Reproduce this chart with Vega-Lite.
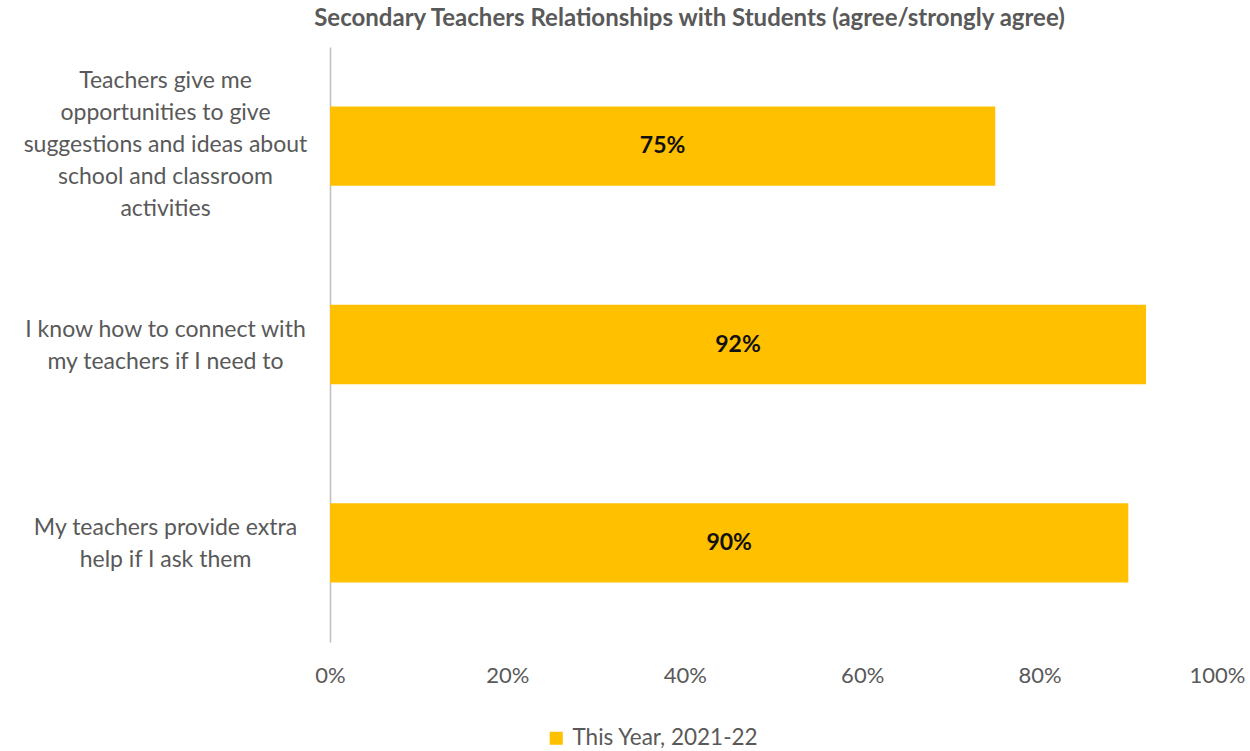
{
  "$schema": "https://vega.github.io/schema/vega-lite/v6.json",
  "autosize": {"type": "none"},
  "padding": {"left": 330, "top": 47, "right": 33, "bottom": 109},
  "width": 887,
  "height": 595,
  "background": "#ffffff",
  "config": {
    "view": {"stroke": null},
    "font": "Lato"
  },
  "title": {
    "text": "Secondary Teachers Relationships with Students (agree/strongly agree)",
    "fontSize": 24,
    "fontWeight": "bold",
    "color": "#595959",
    "font": "Lato",
    "anchor": "middle",
    "dx": -84,
    "offset": 16
  },
  "data": {
    "values": [
      {"item": "Teachers give me opportunities to give suggestions and ideas about school and classroom activities", "value": 0.75, "series": "This Year, 2021-22"},
      {"item": "I know how to connect with my teachers if I need to", "value": 0.92, "series": "This Year, 2021-22"},
      {"item": "My teachers provide extra help if I ask them", "value": 0.90, "series": "This Year, 2021-22"}
    ]
  },
  "encoding": {
    "y": {
      "field": "item",
      "type": "nominal",
      "sort": null,
      "scale": {"paddingInner": 0.6, "paddingOuter": 0.3},
      "axis": {
        "title": null,
        "ticks": false,
        "domain": true,
        "domainColor": "#bfbfbf",
        "domainWidth": 1.5,
        "labelAlign": "center",
        "labelBaseline": "middle",
        "labelPadding": 165,
        "labelFont": "Lato",
        "labelFontSize": 23,
        "labelColor": "#595959",
        "labelLineHeight": 32,
        "labelLimit": 0,
        "labelOffset": {
          "condition": {"test": "datum.value == 'Teachers give me opportunities to give suggestions and ideas about school and classroom activities'", "value": -65},
          "value": -15
        },
        "labelExpr": "datum.value == 'Teachers give me opportunities to give suggestions and ideas about school and classroom activities' ? ['Teachers give me', 'opportunities to give', 'suggestions and ideas about', 'school and classroom', 'activities'] : datum.value == 'I know how to connect with my teachers if I need to' ? ['I know how to connect with', 'my teachers if I need to'] : ['My teachers provide extra', 'help if I ask them']"
      }
    }
  },
  "layer": [
    {
      "mark": {"type": "bar"},
      "encoding": {
        "x": {
          "field": "value",
          "type": "quantitative",
          "scale": {"domain": [0, 1], "nice": false},
          "axis": {
            "title": null,
            "format": ".0%",
            "values": [0, 0.2, 0.4, 0.6, 0.8, 1],
            "grid": false,
            "ticks": false,
            "domain": false,
            "labelPadding": 23,
            "labelFont": "Lato",
            "labelFontSize": 22,
            "labelColor": "#595959",
            "labelFlush": false
          }
        },
        "color": {
          "field": "series",
          "type": "nominal",
          "scale": {"range": ["#FFC000"]},
          "legend": {
            "title": null,
            "orient": "none",
            "legendX": 215,
            "legendY": 680,
            "symbolType": "square",
            "symbolSize": 170,
            "symbolStrokeWidth": 0,
            "labelFont": "Lato",
            "labelFontSize": 22.5,
            "labelColor": "#595959",
            "labelOffset": 5,
            "labelLimit": 0
          }
        }
      }
    },
    {
      "transform": [{"calculate": "datum.value / 2", "as": "mid"}],
      "mark": {"type": "text", "font": "Lato", "fontWeight": "bold", "fontSize": 23, "color": "#111111", "baseline": "middle", "align": "center"},
      "encoding": {
        "x": {"field": "mid", "type": "quantitative"},
        "text": {"field": "value", "type": "quantitative", "format": ".0%"}
      }
    }
  ]
}
